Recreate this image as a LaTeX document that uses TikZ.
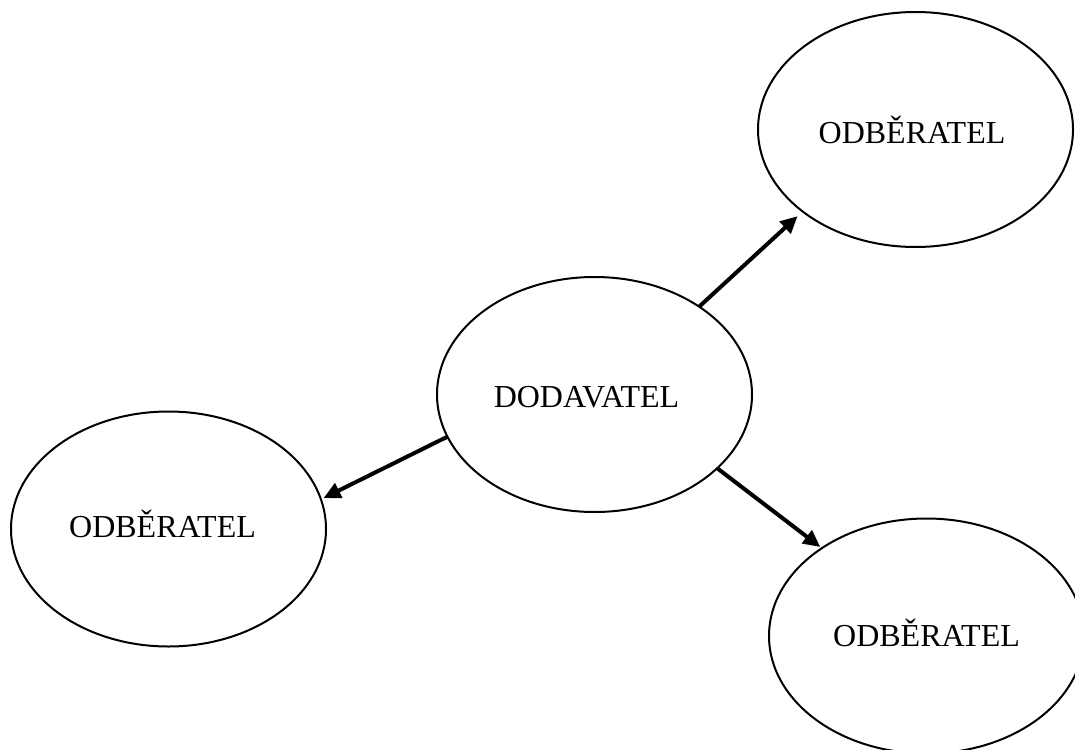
\documentclass[tikz,border=0pt]{standalone}
\usepackage{fontspec}
\setmainfont{Liberation Serif}
\usetikzlibrary{shapes.geometric,arrows.meta}
\begin{document}
\begin{tikzpicture}[x=1pt,y=-1pt,
  oval/.style={ellipse,draw,line width=2pt,inner sep=0pt,outer sep=0pt,
    minimum width=315pt,minimum height=235pt},
  caption/.style={anchor=base,inner sep=0pt,font=\fontsize{32}{38}\selectfont},
  flow/.style={line width=4pt,-{Triangle[length=17pt,width=16pt]}}]
\useasboundingbox (0,0) rectangle (1075,749);
\clip (0,0) rectangle (1075,749);
% supplier and three customers
\node[oval] (dod) at (594.5,394.5) {};
\node[oval] (odb1) at (915.5,129.5) {};
\node[oval] (odb2) at (168.5,529) {};
\node[oval] (odb3) at (926.5,636) {};
\node[caption] (tdod) at (586.5,407) {DODAVATEL};
\node[caption] (t1) at (912,143) {ODBĚRATEL};
\node[caption] (t2) at (162.5,537) {ODBĚRATEL};
\node[caption] (t3) at (926.5,646) {ODBĚRATEL};
% deliveries
\draw[flow,shorten >=7pt] (dod.40.2) -- (odb1.216.9);
\draw[flow,shorten >=3pt] (dod.196.1) -- (odb2.11.9);
\draw[flow,shorten >=2pt] (dod.-31) -- (odb3.140.6);
\end{tikzpicture}
\end{document}
